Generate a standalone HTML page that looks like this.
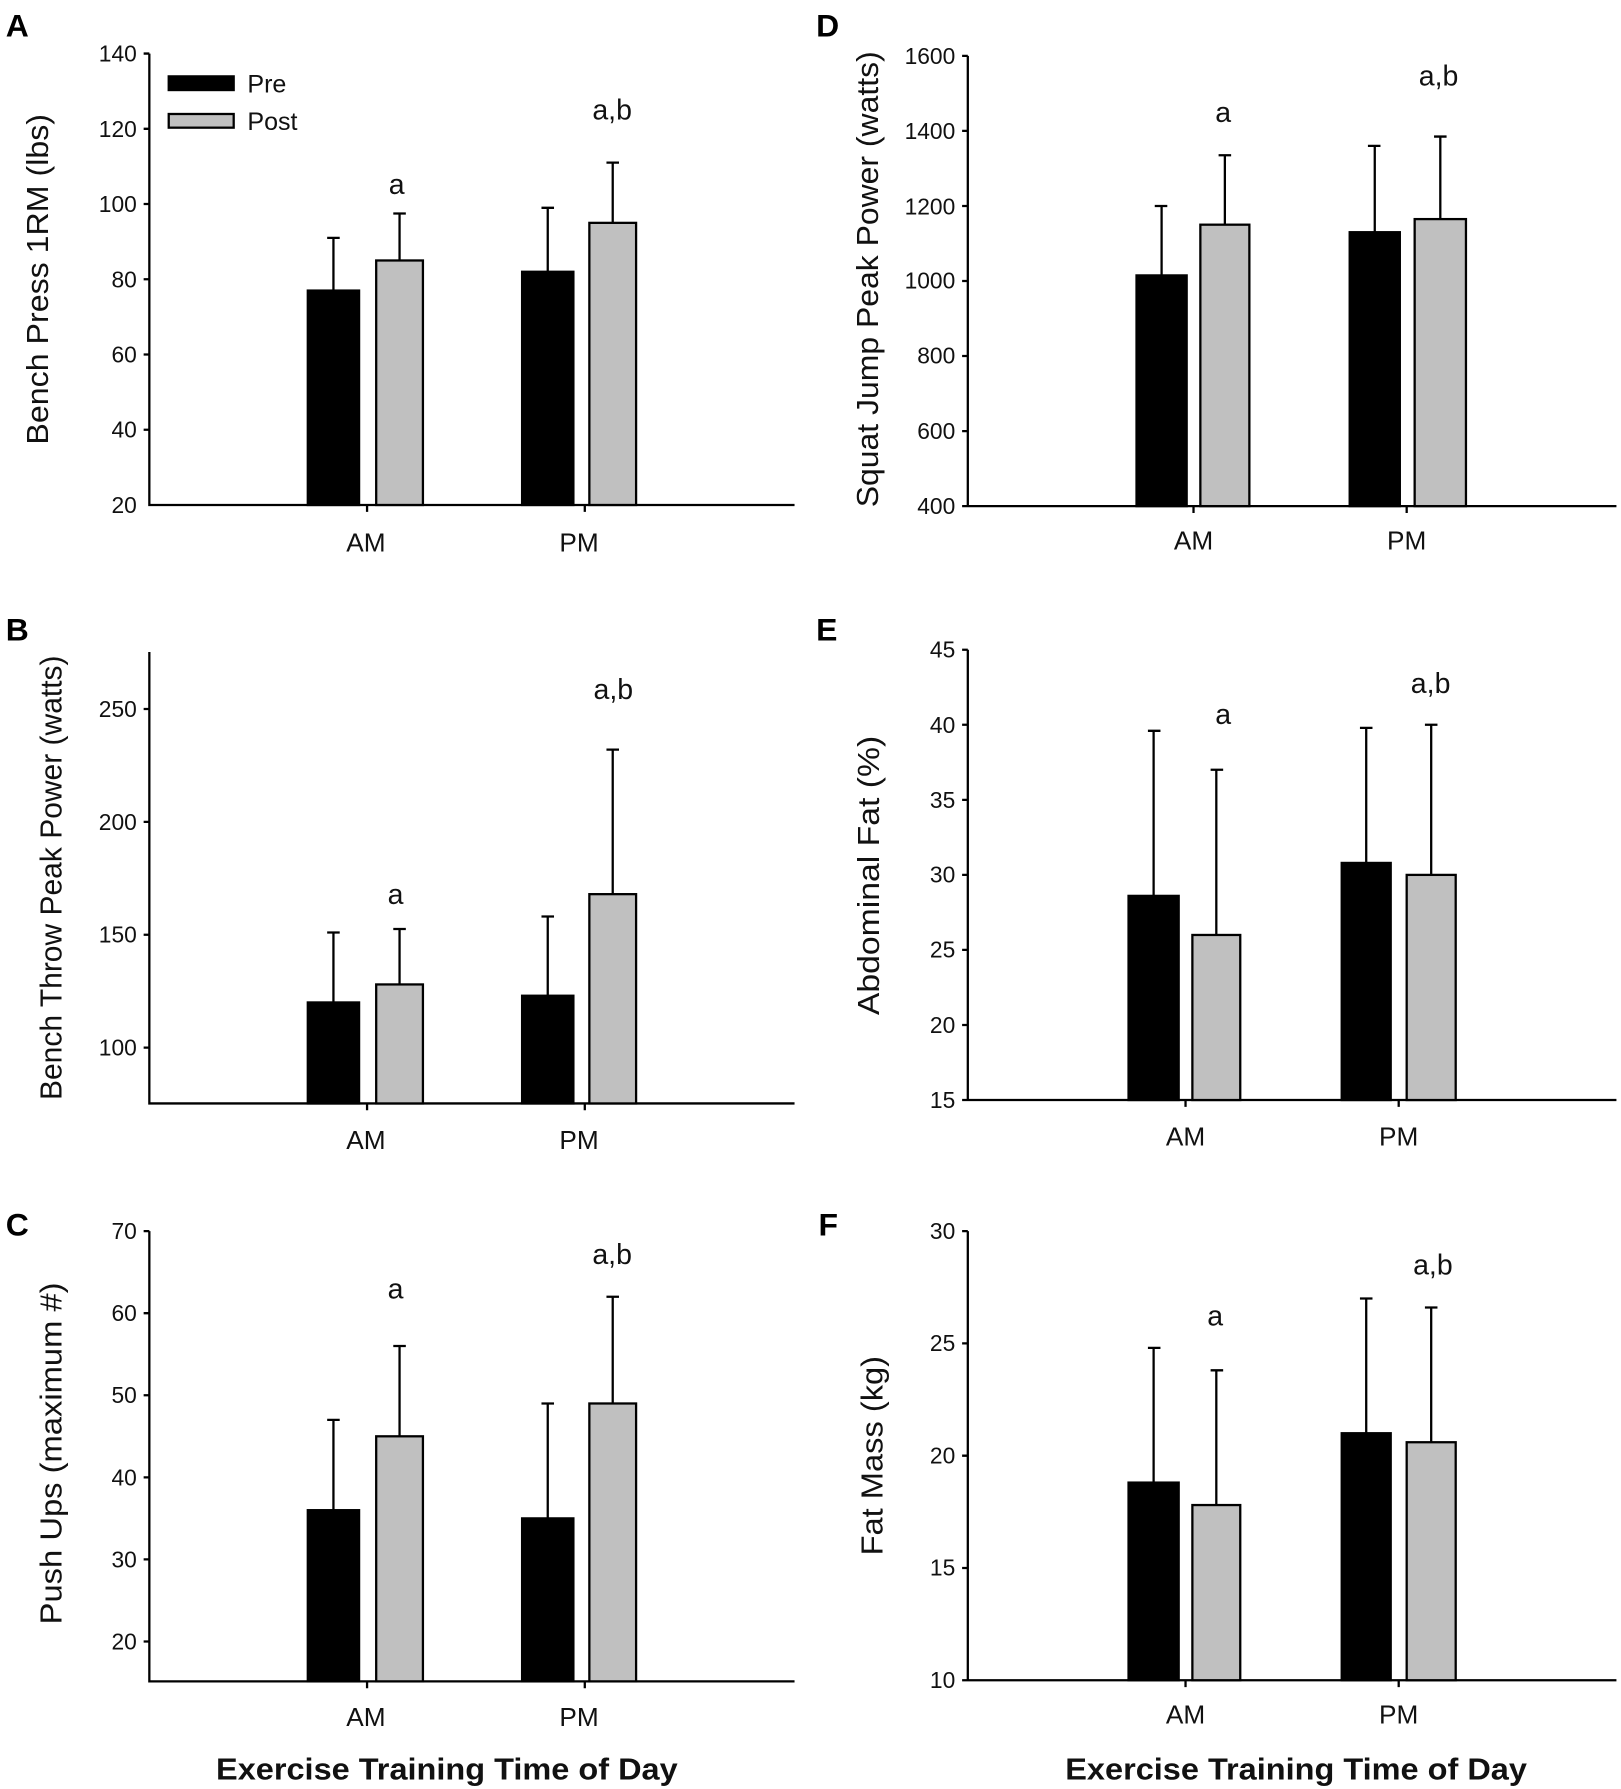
<!DOCTYPE html>
<html><head><meta charset="utf-8"><style>html,body{margin:0;padding:0;background:#fff}svg{display:block}</style></head>
<body>
<svg width="1621" height="1789" viewBox="0 0 1422 1569.4" xmlns="http://www.w3.org/2000/svg" font-family="Liberation Sans, Arial, sans-serif">
<rect width="1422" height="1570" fill="#fff"/>
<g font-weight="bold" font-size="28">
<text x="5" y="32">A</text><text x="716" y="32">D</text>
<text x="5" y="562">B</text><text x="716" y="562">E</text>
<text x="5" y="1084">C</text><text x="718" y="1084">F</text>
</g>
<g stroke="#000" stroke-width="2" fill="none">
<path d="M131,47V443H697M126,47H131M126,113H131M126,179H131M126,245H131M126,311H131M126,377H131M322,443v6M513,443v6"/>
<path d="M849,49V444H1418M844,49H849M844,114.8H849M844,180.7H849M844,246.5H849M844,312.3H849M844,378.2H849M844,444H849M1047,444v6M1234,444v6"/>
<path d="M131,572V968H697M126,622H131M126,721H131M126,820H131M126,919H131M322,968v6M513,968v6"/>
<path d="M849,570V965H1418M844,570H849M844,635.8H849M844,701.7H849M844,767.5H849M844,833.3H849M844,899.2H849M844,965H849M1040,965v6M1227,965v6"/>
<path d="M131,1080V1475H697M126,1080H131M126,1152H131M126,1224H131M126,1296H131M126,1368H131M126,1440H131M322,1475v6M513,1475v6"/>
<path d="M849,1080V1474H1418M844,1080H849M844,1178.5H849M844,1277H849M844,1375.5H849M844,1474H849M1040,1474v6M1227,1474v6"/>
</g>
<g stroke="#000" stroke-width="2" fill="none">
<path d="M292.5,254.9V208.7M287,208.7h11M350.5,228.5V187.3M345,187.3h11M480.5,238.4V182.3M475,182.3h11M537.5,195.5V142.7M532,142.7h11"/>
<path d="M1019,241.6V180.7M1013,180.7h11M1074.5,197.1V136.2M1069,136.2h11M1206,203.7V128M1200,128h11M1263.5,192.2V119.8M1258,119.8h11"/>
<path d="M292.5,879.4V818M287,818h11M350.5,863.6V815M345,815h11M480.5,873.5V804M475,804h11M537.5,784.4V657.6M532,657.6h11"/>
<path d="M1012,785.9V641.1M1007,641.1h11M1067,820.2V675.3M1062,675.3h11M1198.5,757V638.5M1193,638.5h11M1255.5,767.5V635.8M1250,635.8h11"/>
<path d="M292.5,1324.8V1245.6M287,1245.6h11M350.5,1260V1180.8M345,1180.8h11M480.5,1332V1231.2M475,1231.2h11M537.5,1231.2V1137.6M532,1137.6h11"/>
<path d="M1012,1300.6V1182.4M1007,1182.4h11M1067,1320.3V1202.1M1062,1202.1h11M1198.5,1257.3V1139.1M1193,1139.1h11M1255.5,1265.2V1147M1250,1147h11"/>
</g>
<g stroke="#000" stroke-width="2">
<rect x="270" y="254.9" width="45" height="188.1" fill="#000"/><rect x="330" y="228.5" width="41" height="214.5" fill="#c0c0c0"/>
<rect x="458" y="238.4" width="45" height="204.6" fill="#000"/><rect x="517" y="195.5" width="41" height="247.5" fill="#c0c0c0"/>
<rect x="997" y="241.6" width="44" height="202.4" fill="#000"/><rect x="1053" y="197.1" width="43" height="246.9" fill="#c0c0c0"/>
<rect x="1184" y="203.7" width="44" height="240.3" fill="#000"/><rect x="1241" y="192.2" width="45" height="251.8" fill="#c0c0c0"/>
<rect x="270" y="879.4" width="45" height="88.6" fill="#000"/><rect x="330" y="863.6" width="41" height="104.4" fill="#c0c0c0"/>
<rect x="458" y="873.5" width="45" height="94.5" fill="#000"/><rect x="517" y="784.4" width="41" height="183.6" fill="#c0c0c0"/>
<rect x="990" y="785.9" width="44" height="179.1" fill="#000"/><rect x="1046" y="820.2" width="42" height="144.8" fill="#c0c0c0"/>
<rect x="1177" y="757" width="43" height="208" fill="#000"/><rect x="1234" y="767.5" width="43" height="197.5" fill="#c0c0c0"/>
<rect x="270" y="1324.8" width="45" height="150.2" fill="#000"/><rect x="330" y="1260" width="41" height="215" fill="#c0c0c0"/>
<rect x="458" y="1332" width="45" height="143" fill="#000"/><rect x="517" y="1231.2" width="41" height="243.8" fill="#c0c0c0"/>
<rect x="990" y="1300.6" width="44" height="173.4" fill="#000"/><rect x="1046" y="1320.3" width="42" height="153.7" fill="#c0c0c0"/>
<rect x="1177" y="1257.3" width="43" height="216.7" fill="#000"/><rect x="1234" y="1265.2" width="43" height="208.8" fill="#c0c0c0"/>
<rect x="148" y="67" width="57" height="12" fill="#000"/><rect x="148" y="100" width="57" height="12" fill="#c0c0c0"/>
</g>
<g font-size="22" fill="#111">
<text x="217" y="81">Pre</text><text x="217" y="114">Post</text>
</g>
<g font-size="20" fill="#111" text-anchor="end">
<text x="120" y="54">140</text><text x="120" y="120">120</text><text x="120" y="186">100</text><text x="120" y="252">80</text><text x="120" y="318">60</text><text x="120" y="384">40</text><text x="120" y="450">20</text>
<text x="838" y="56">1600</text><text x="838" y="122">1400</text><text x="838" y="188">1200</text><text x="838" y="253">1000</text><text x="838" y="319">800</text><text x="838" y="385">600</text><text x="838" y="451">400</text>
<text x="120" y="629">250</text><text x="120" y="728">200</text><text x="120" y="827">150</text><text x="120" y="926">100</text>
<text x="838" y="577">45</text><text x="838" y="643">40</text><text x="838" y="709">35</text><text x="838" y="774">30</text><text x="838" y="840">25</text><text x="838" y="906">20</text><text x="838" y="972">15</text>
<text x="120" y="1087">70</text><text x="120" y="1159">60</text><text x="120" y="1231">50</text><text x="120" y="1303">40</text><text x="120" y="1375">30</text><text x="120" y="1447">20</text>
<text x="838" y="1087">30</text><text x="838" y="1185">25</text><text x="838" y="1284">20</text><text x="838" y="1382">15</text><text x="838" y="1481">10</text>
</g>
<g font-size="23" fill="#111" text-anchor="middle">
<text x="321" y="484">AM</text><text x="508" y="484">PM</text>
<text x="1047" y="482">AM</text><text x="1234" y="482">PM</text>
<text x="321" y="1008">AM</text><text x="508" y="1008">PM</text>
<text x="1040" y="1005">AM</text><text x="1227" y="1005">PM</text>
<text x="321" y="1514">AM</text><text x="508" y="1514">PM</text>
<text x="1040" y="1512">AM</text><text x="1227" y="1512">PM</text>
</g>
<g font-size="25" fill="#111" text-anchor="middle">
<text x="348" y="170">a</text><text x="537" y="105">a,b</text>
<text x="1073" y="107">a</text><text x="1262" y="75">a,b</text>
<text x="347" y="793">a</text><text x="538" y="613">a,b</text>
<text x="1073" y="635">a</text><text x="1255" y="608">a,b</text>
<text x="347" y="1139">a</text><text x="537" y="1109">a,b</text>
<text x="1066" y="1163">a</text><text x="1257" y="1118">a,b</text>
</g>
<g font-size="27" fill="#111" text-anchor="middle">
<text transform="translate(42,245) rotate(-90)" textLength="290" lengthAdjust="spacingAndGlyphs">Bench Press 1RM (lbs)</text>
<text transform="translate(770,245) rotate(-90)" textLength="400" lengthAdjust="spacingAndGlyphs">Squat Jump Peak Power (watts)</text>
<text transform="translate(54,770) rotate(-90)" textLength="390" lengthAdjust="spacingAndGlyphs">Bench Throw Peak Power (watts)</text>
<text transform="translate(771,768) rotate(-90)" textLength="245" lengthAdjust="spacingAndGlyphs">Abdominal Fat (%)</text>
<text transform="translate(54,1275) rotate(-90)" textLength="300" lengthAdjust="spacingAndGlyphs">Push Ups (maximum #)</text>
<text transform="translate(774,1277) rotate(-90)" textLength="175" lengthAdjust="spacingAndGlyphs">Fat Mass (kg)</text>
</g>
<g font-size="27" font-weight="bold" fill="#111" text-anchor="middle">
<text x="392" y="1561" textLength="405" lengthAdjust="spacingAndGlyphs">Exercise Training Time of Day</text>
<text x="1137" y="1561" textLength="405" lengthAdjust="spacingAndGlyphs">Exercise Training Time of Day</text>
</g>
</svg>
</body></html>
